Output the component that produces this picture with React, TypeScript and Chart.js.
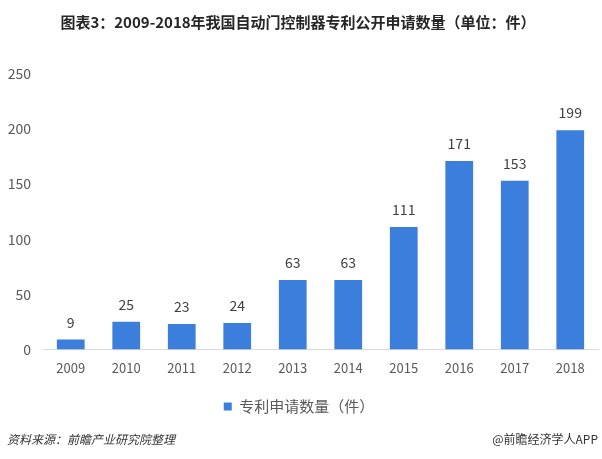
import React, { useEffect, useRef } from "react";
import { Chart, registerables } from "chart.js";

Chart.register(...registerables);

const categories = ["2009", "2010", "2011", "2012", "2013", "2014", "2015", "2016", "2017", "2018"];
const patentCounts = [9, 25, 23, 24, 63, 63, 111, 171, 153, 199];
const seriesName = "专利申请数量（件）";
const titleText = "图表3：2009-2018年我国自动门控制器专利公开申请数量（单位：件）";
const sourceText = "资料来源：前瞻产业研究院整理";
const brandText = "@前瞻经济学人APP";

const FONT = "'Noto Sans CJK SC', 'Noto Sans', sans-serif";

const extrasPlugin = {
  id: "extras",
  afterDatasetsDraw(chart: any) {
    const ctx = chart.ctx;
    const meta = chart.getDatasetMeta(0);
    ctx.save();
    ctx.fillStyle = "#404040";
    ctx.font = `14px ${FONT}`;
    ctx.textAlign = "center";
    ctx.textBaseline = "bottom";
    meta.data.forEach((bar: any, i: number) => {
      ctx.fillText(String(patentCounts[i]), bar.x, bar.y - 10);
    });
    ctx.restore();
  },
  afterDraw(chart: any) {
    const ctx = chart.ctx;
    ctx.save();
    ctx.fillStyle = "#262626";
    ctx.font = `bold 15px ${FONT}`;
    ctx.textAlign = "center";
    ctx.textBaseline = "middle";
    ctx.fillText(titleText, 298, 22);
    ctx.fillStyle = "#333333";
    ctx.font = `italic 12px ${FONT}`;
    ctx.textAlign = "left";
    ctx.fillText(sourceText, 7, 439);
    ctx.font = `12px ${FONT}`;
    ctx.textAlign = "right";
    ctx.fillText(brandText, 598, 439);
    ctx.restore();
  },
};

export default function App() {
  const ref = useRef<HTMLCanvasElement | null>(null);
  useEffect(() => {
    if (!ref.current) return;
    const chart = new Chart(ref.current, {
      type: "bar",
      data: {
        labels: categories,
        datasets: [
          {
            label: seriesName,
            data: patentCounts,
            backgroundColor: "#3c7edc",
            categoryPercentage: 0.5,
            barPercentage: 1,
          },
        ],
      },
      options: {
        animation: false,
        responsive: false,
        maintainAspectRatio: false,
        layout: { padding: { top: 74, right: 4, bottom: 35, left: 0 } },
        plugins: {
          title: { display: false },
          tooltip: { enabled: false },
          legend: {
            position: "bottom",
            labels: {
              boxWidth: 8,
              boxHeight: 8,
              color: "#595959",
              font: { family: FONT, size: 15 },
              padding: 12,
            },
          },
        },
        scales: {
          x: {
            grid: { display: false, drawTicks: false },
            border: { display: true, color: "#d9d9d9" },
            ticks: { color: "#595959", font: { family: FONT, size: 13 }, padding: 11 },
          },
          y: {
            min: 0,
            max: 250,
            grid: { display: false, drawTicks: false },
            border: { display: false },
            ticks: {
              stepSize: 50,
              color: "#595959",
              font: { family: FONT, size: 14 },
              padding: 12,
            },
            afterFit: (s: any) => {
              s.width = 43;
            },
          },
        },
      },
      plugins: [extrasPlugin],
    });
    return () => chart.destroy();
  }, []);
  return (
    <div style={{ position: "fixed", left: 0, top: 0, width: 602, height: 459, background: "#fff" }}>
      <canvas ref={ref} width={602} height={459} style={{ width: 602, height: 459 }} />
    </div>
  );
}
